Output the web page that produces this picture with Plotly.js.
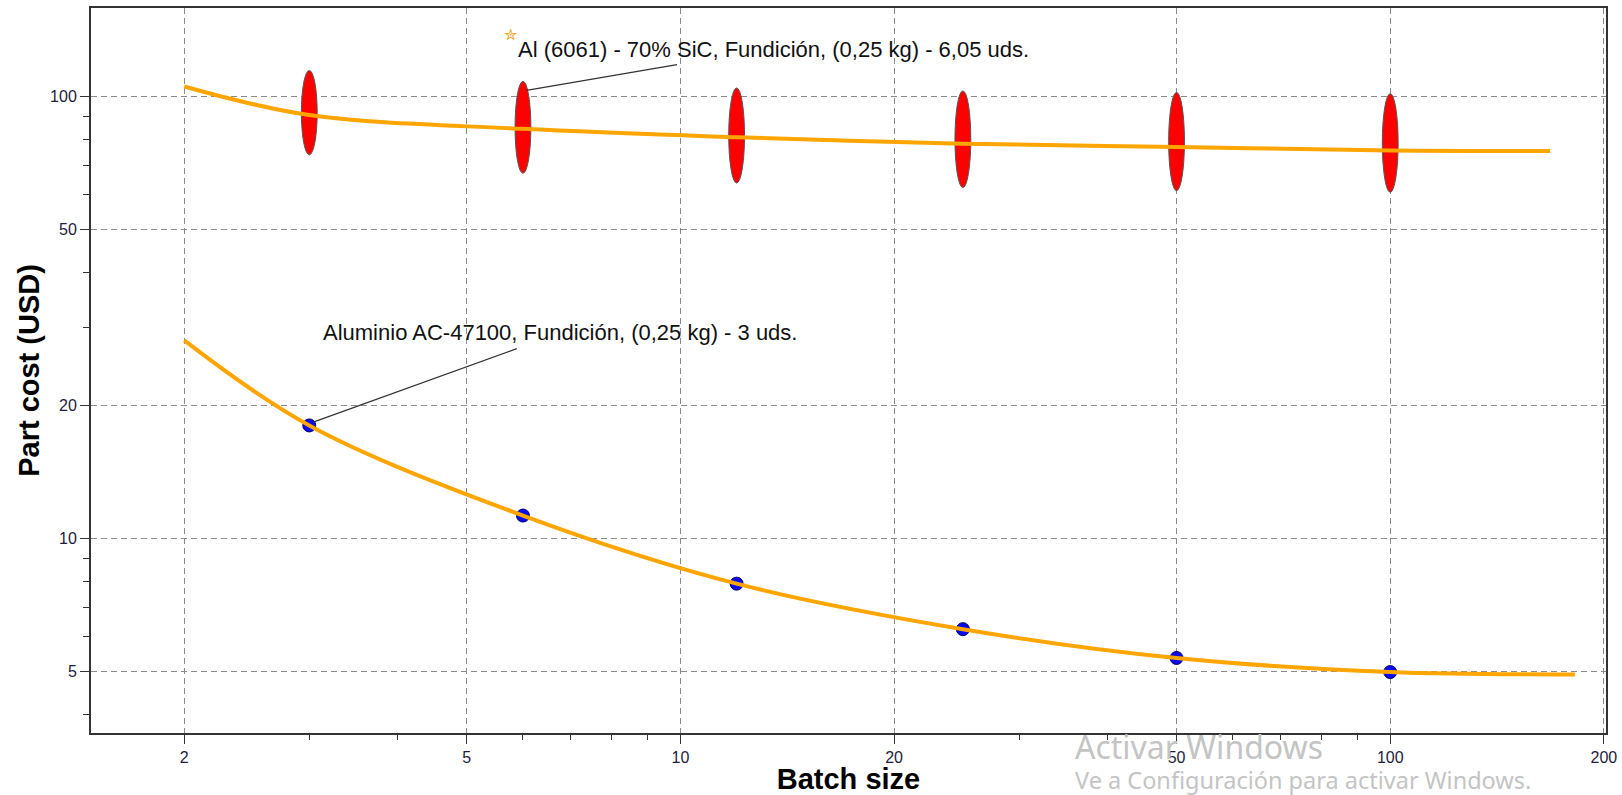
<!DOCTYPE html>
<html>
<head>
<meta charset="utf-8">
<script src="https://cdn.plot.ly/plotly-3.0.1.min.js"></script>
<style>
html,body{margin:0;padding:0;background:#fff;}
#chart{width:1622px;height:795px;}
</style>
</head>
<body>
<div id="chart"></div>
<script>
// ---- data ----
const batchSizes = [3, 6, 12, 25, 50, 100];
const aluminioCost = [18.04, 11.28, 7.91, 6.24, 5.37, 4.99];
const alsicLow = [73.9, 67.1, 63.8, 62.3, 61.3, 60.8];
const alsicHigh = [114.7, 108.4, 104.7, 103.1, 102.3, 101.6];
const alsicCurveX = [2, 3, 6, 12, 25, 50, 100, 168];
const alsicCurveY = [105.5, 90.9, 84.6, 81.0, 78.3, 77.0, 75.6, 75.4];
const aluminioCurveX = [2, 3, 6, 12, 25, 50, 100, 182];
const aluminioCurveY = [28.1, 18.04, 11.28, 7.91, 6.24, 5.37, 4.99, 4.93];
const xTicks = [2, 5, 10, 20, 50, 100, 200];
const xMinor = [3, 4, 6, 7, 8, 9, 30, 40, 60, 70, 80, 90];
const yTicks = [5, 10, 20, 50, 100];
const yMinor = [4, 6, 7, 8, 9, 30, 40, 60, 70, 80, 90];
const labelAlsic = 'Al (6061) - 70% SiC, Fundición, (0,25 kg) - 6,05 uds.';
const labelAluminio = 'Aluminio AC-47100, Fundición, (0,25 kg) - 3 uds.';
const xTitle = 'Batch size';
const yTitle = 'Part cost (USD)';
const watermark1 = 'Activar Windows';
const watermark2 = 'Ve a Configuración para activar Windows.';

const FONT = 'Liberation Sans, Arial, Helvetica, sans-serif';
const ORANGE = '#FFA500';
const TICKCOL = '#1c1c3c';
const ELLIPSE_HALF_WIDTH = 1.026; // multiplicative half-width on the log x axis (~8 px)

const traces = [
  {
    type: 'scatter', mode: 'markers',
    x: batchSizes, y: aluminioCost,
    marker: {size: 13, color: '#0a0aee', line: {color: '#000066', width: 1}},
    hoverinfo: 'skip'
  },
  {
    type: 'scatter', mode: 'lines',
    x: alsicCurveX, y: alsicCurveY,
    line: {color: ORANGE, width: 4, shape: 'spline', smoothing: 1},
    hoverinfo: 'skip'
  },
  {
    type: 'scatter', mode: 'lines',
    x: aluminioCurveX, y: aluminioCurveY,
    line: {color: ORANGE, width: 4, shape: 'spline', smoothing: 1},
    hoverinfo: 'skip'
  }
];

const shapes = batchSizes.map((b, i) => ({
  type: 'circle', layer: 'between',
  xref: 'x', yref: 'y',
  x0: b / ELLIPSE_HALF_WIDTH, x1: b * ELLIPSE_HALF_WIDTH,
  y0: alsicLow[i], y1: alsicHigh[i],
  fillcolor: '#ff0000',
  line: {color: '#555555', width: 1}
}));

const axisCommon = {
  type: 'log',
  tickmode: 'array',
  ticks: 'outside', ticklen: 9, tickwidth: 1, tickcolor: '#333',
  showline: true, linecolor: '#333', linewidth: 2, mirror: true,
  showgrid: true, gridcolor: '#8a8a8a', gridwidth: 1, griddash: '6px,4px',
  zeroline: false,
  tickfont: {family: FONT, size: 16, color: TICKCOL}
};

const layout = {
  width: 1622, height: 795,
  margin: {l: 91, r: 16, t: 8, b: 62, pad: 0},
  paper_bgcolor: '#ffffff', plot_bgcolor: '#ffffff',
  showlegend: false,
  font: {family: FONT, size: 16, color: TICKCOL},
  xaxis: Object.assign({}, axisCommon, {
    range: [0.1696, 2.304],
    tickvals: xTicks, ticktext: xTicks.map(String),
    minor: {tickmode: 'array', tickvals: xMinor, ticks: 'outside', ticklen: 5, tickwidth: 1, tickcolor: '#333', showgrid: false},
    title: {text: xTitle, font: {family: FONT, size: 29, weight: 'bold', color: '#000'}, standoff: 7}
  }),
  yaxis: Object.assign({}, axisCommon, {
    range: [0.5602, 2.2009],
    tickvals: yTicks, ticktext: yTicks.map(String),
    minor: {tickmode: 'array', tickvals: yMinor, ticks: 'outside', ticklen: 6, tickwidth: 1, tickcolor: '#333', showgrid: false},
    title: {text: yTitle, font: {family: FONT, size: 29, weight: 'bold', color: '#000'}, standoff: 2}
  }),
  shapes: shapes,
  annotations: [
    {
      xref: 'paper', yref: 'paper', x: 0.4506, y: 0.943,
      xanchor: 'center', yanchor: 'middle', showarrow: false,
      text: labelAlsic, font: {family: FONT, size: 22, color: '#111'}
    },
    {
      xref: 'paper', yref: 'paper', x: 0.3095, y: 0.5531,
      xanchor: 'center', yanchor: 'middle', showarrow: false,
      text: labelAluminio, font: {family: FONT, size: 22, color: '#111'}
    },
    {
      xref: 'x', yref: 'y', x: Math.log10(batchSizes[1]), y: Math.log10(alsicHigh[1]),
      xshift: 3.5, yshift: -9,
      text: ' ', font: {size: 1}, showarrow: true, arrowhead: 0, arrowwidth: 1.2, arrowcolor: '#333',
      axref: 'pixel', ayref: 'pixel', ax: 152, ay: -26, standoff: 0, startstandoff: 0
    },
    {
      xref: 'x', yref: 'y', x: Math.log10(batchSizes[0]), y: Math.log10(aluminioCost[0]),
      xshift: 4, yshift: 3.3,
      text: ' ', font: {size: 1}, showarrow: true, arrowhead: 0, arrowwidth: 1.2, arrowcolor: '#333',
      axref: 'pixel', ayref: 'pixel', ax: 205, ay: -74, standoff: 0, startstandoff: 0
    },
    {
      xref: 'paper', yref: 'paper', x: 0.2775, y: 0.963,
      xanchor: 'center', yanchor: 'middle', showarrow: false,
      text: '✮', font: {family: 'DejaVu Sans', size: 16, color: '#f39c12'}
    },
    {
      xref: 'paper', yref: 'paper', x: 0.648, y: -0.0193,
      xanchor: 'left', yanchor: 'middle', showarrow: false,
      text: watermark1, font: {family: 'Noto Sans, Open Sans, sans-serif', size: 32, color: '#c4c4c4'}
    },
    {
      xref: 'paper', yref: 'paper', x: 0.648, y: -0.0648,
      xanchor: 'left', yanchor: 'middle', showarrow: false,
      text: watermark2, font: {family: 'Noto Sans, Open Sans, sans-serif', size: 23.5, color: '#c4c4c4'}
    }
  ]
};

Plotly.newPlot('chart', traces, layout, {displayModeBar: false, staticPlot: true});
</script>
</body>
</html>
